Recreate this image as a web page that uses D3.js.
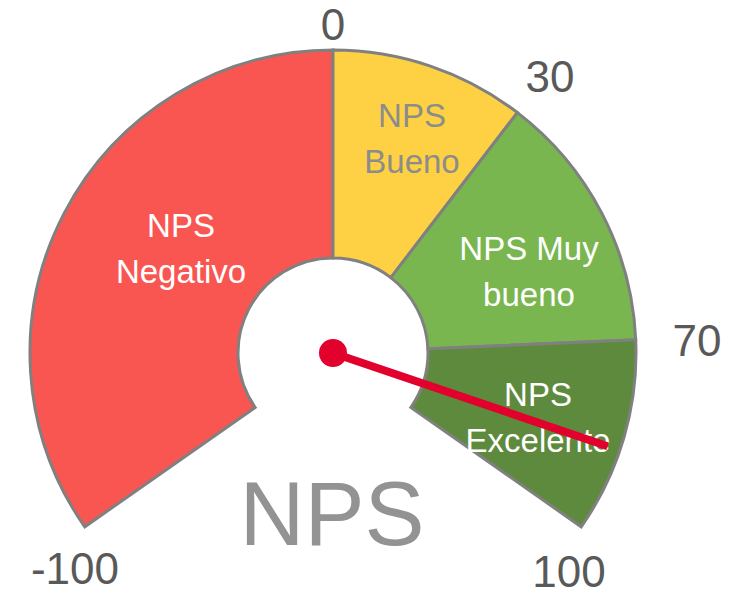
<!DOCTYPE html>
<html>
<head>
<meta charset="utf-8">
<script src="https://cdn.jsdelivr.net/npm/d3@7"></script>
<style>
  html, body { margin: 0; padding: 0; background: #fff; }
  text { font-family: "Liberation Sans", Arial, sans-serif; }
</style>
</head>
<body>
<svg id="chart"></svg>
<script>
// data
var bandStarts = [-100, 0, 30, 70];
var bandEnds = [0, 30, 70, 100];
var bandNames = [["NPS", "Negativo"], ["NPS", "Bueno"], ["NPS Muy", "bueno"], ["NPS", "Excelente"]];
var bandColors = ["#f95652", "#fed144", "#7ab650", "#5e8a3d"];
var bandText = ["#ffffff", "#8c8c8c", "#ffffff", "#ffffff"];
var tickValues = [-100, 0, 30, 70, 100];
var npsValue = 87;
var title = "NPS";

var width = 736, height = 596;
var cx = 333, cy = 353;
var outerR = 303, innerR = 95;

var svg = d3.select("#chart")
  .attr("width", width)
  .attr("height", height);

// value -> angle, 250 degrees of sweep
var angle = d3.scaleLinear()
  .domain([-100, 100])
  .range([-125 * Math.PI / 180, 125 * Math.PI / 180]);

var arc = d3.arc()
  .innerRadius(innerR)
  .outerRadius(outerR);

var g = svg.append("g")
  .attr("transform", "translate(" + cx + "," + cy + ")");

var bands = bandStarts.map(function(d, i) {
  return { start: d, end: bandEnds[i], name: bandNames[i], color: bandColors[i], text: bandText[i] };
});

g.selectAll("path.band")
  .data(bands)
  .enter().append("path")
    .attr("class", "band")
    .attr("d", function(d) { return arc({ startAngle: angle(d.start), endAngle: angle(d.end) }); })
    .style("fill", function(d) { return d.color; })
    .style("stroke", "#808080")
    .style("stroke-width", 3)
    .style("stroke-linejoin", "miter");

// band labels (placed like excel did, offsets from centre)
var labelPos = [[-152, -116], [79, -226], [196, -93], [205, 53]];
var lineGap = 46;

g.selectAll("text.band")
  .data(bands)
  .enter().append("text")
    .attr("class", "band")
    .attr("text-anchor", "middle")
    .style("font-size", "33px")
    .style("fill", function(d) { return d.text; })
    .each(function(d, i) {
      var t = d3.select(this);
      d.name.forEach(function(line, j) {
        t.append("tspan")
          .attr("x", labelPos[i][0])
          .attr("y", labelPos[i][1] + j * lineGap)
          .text(line);
      });
    });

// tick labels around the gauge
var tickPos = {"-100": [-258, 231], "0": [0, -313], "30": [217, -261], "70": [364, 3], "100": [236, 234]};

g.selectAll("text.tick")
  .data(tickValues)
  .enter().append("text")
    .attr("class", "tick")
    .attr("text-anchor", "middle")
    .attr("x", function(d) { return tickPos[d][0]; })
    .attr("y", function(d) { return tickPos[d][1]; })
    .style("font-size", "44px")
    .style("fill", "#595959")
    .text(function(d) { return d; });

// title
g.append("text")
  .attr("text-anchor", "middle")
  .attr("x", -1)
  .attr("y", 192)
  .style("font-size", "90px")
  .style("fill", "#939393")
  .text(title);

// needle
var a = angle(npsValue);
var needleLen = 290;
g.append("line")
  .attr("x1", 0)
  .attr("y1", 0)
  .attr("x2", needleLen * Math.sin(a))
  .attr("y2", -needleLen * Math.cos(a))
  .style("stroke", "#e2002d")
  .style("stroke-width", 8);

g.append("circle")
  .attr("r", 14)
  .style("fill", "#e2002d");
</script>
</body>
</html>
